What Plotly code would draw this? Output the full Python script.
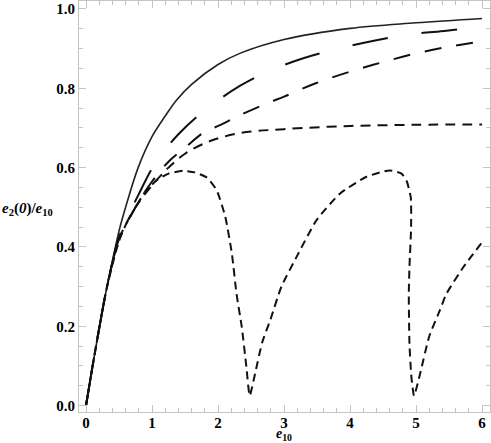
import plotly.graph_objects as go

# values
x_solid = [0, 0.1, 0.2, 0.3, 0.4, 0.5, 0.6, 0.79, 1.0, 1.2, 1.37, 1.6, 2.0, 2.33, 3.0, 4.0, 5.0, 6.0]
y_solid = [0, 0.1, 0.195, 0.285, 0.365, 0.44, 0.5, 0.6, 0.678, 0.73, 0.77, 0.81, 0.86, 0.888, 0.923, 0.951, 0.965, 0.976]

x_long = [0, 0.1, 0.2, 0.3, 0.4, 0.5, 0.6, 0.79, 1.045, 1.4, 1.82, 2.33, 2.78, 3.28, 3.83, 4.36, 4.92, 5.46, 6.0]
y_long = [0, 0.1, 0.195, 0.285, 0.36, 0.425, 0.465, 0.53, 0.61, 0.684, 0.747, 0.806, 0.844, 0.875, 0.9, 0.92, 0.936, 0.945, 0.955]

x_med = [0, 0.1, 0.2, 0.3, 0.4, 0.5, 0.75, 1.0, 1.25, 1.5, 1.77, 2.03, 2.33, 2.74, 3.0, 3.47, 4.0, 4.5, 5.0, 5.5, 6.0]
y_med = [0, 0.1, 0.195, 0.285, 0.36, 0.42, 0.5, 0.565, 0.615, 0.65, 0.687, 0.707, 0.732, 0.762, 0.779, 0.812, 0.842, 0.866, 0.888, 0.905, 0.918]

x_short = [0, 0.1, 0.2, 0.3, 0.4, 0.5, 0.75, 1.0, 1.25, 1.5, 1.85, 2.33, 3.0, 4.0, 5.0, 6.0]
y_short = [0, 0.1, 0.195, 0.285, 0.36, 0.42, 0.5, 0.555, 0.6, 0.635, 0.665, 0.687, 0.697, 0.705, 0.708, 0.709]

x_osc = [0, 0.1, 0.2, 0.3, 0.4, 0.5, 0.6, 0.75, 0.9, 1.07, 1.25, 1.47, 1.65, 1.83, 1.98, 2.11,
         2.21, 2.28, 2.36, 2.43, 2.48, 2.56, 2.67, 2.79, 2.96, 3.19, 3.49, 3.85, 4.25, 4.6,
         4.78, 4.86, 4.92, 4.925, 4.9, 4.89, 4.9, 4.93, 4.97, 5.06, 5.2, 5.36, 5.46, 5.72, 6.0]
y_osc = [0, 0.1, 0.195, 0.285, 0.355, 0.415, 0.455, 0.5, 0.54, 0.568, 0.585, 0.592, 0.588, 0.575, 0.543, 0.476,
         0.383, 0.282, 0.198, 0.097, 0.025, 0.08, 0.16, 0.215, 0.3, 0.375, 0.467, 0.535, 0.577, 0.593,
         0.585, 0.565, 0.525, 0.45, 0.35, 0.282, 0.156, 0.071, 0.025, 0.08, 0.175, 0.24, 0.282, 0.35, 0.412]

fig = go.Figure()
fig.add_trace(go.Scatter(x=x_solid, y=y_solid, mode='lines', line=dict(color='#222', width=1.6, shape='spline')))
fig.add_trace(go.Scatter(x=x_long, y=y_long, mode='lines', line=dict(color='#111', width=2, dash='36px,34px', shape='spline')))
fig.add_trace(go.Scatter(x=x_med, y=y_med, mode='lines', line=dict(color='#111', width=2, dash='17px,15px', shape='spline')))
fig.add_trace(go.Scatter(x=x_short, y=y_short, mode='lines', line=dict(color='#111', width=2, dash='10px,7px', shape='spline')))
fig.add_trace(go.Scatter(x=x_osc, y=y_osc, mode='lines',
                         line=dict(color='#111', width=2, dash='8px,5px', shape='spline', smoothing=0.5)))

tickfont = dict(family='Liberation Serif', size=15, color='black', weight='bold')
frame = dict(showline=True, linecolor='#c4c4c4', linewidth=1, mirror='allticks', ticks='inside',
             tickcolor='#c4c4c4', showgrid=False, zeroline=False, tickfont=tickfont)

fig.update_xaxes(range=[-0.106, 6.12], tickvals=[0, 1, 2, 3, 4, 5, 6], ticklen=7, ticklabelstandoff=-3,
                 minor=dict(ticks='inside', dtick=0.2, ticklen=4, tickcolor='#c4c4c4'), **frame)
fig.update_yaxes(range=[-0.016, 1.02], tickvals=[0, 0.2, 0.4, 0.6, 0.8, 1.0], tickformat='.1f', ticklen=7,
                 minor=dict(ticks='inside', dtick=0.05, ticklen=4, tickcolor='#c4c4c4'), **frame)

fig.add_annotation(xref='paper', yref='paper', x=-0.192, y=0.493, xanchor='left', yanchor='middle', showarrow=False,
                   text='<i>e</i><sub>2</sub>(<i>0</i>)/<i>e</i><sub>10</sub>',
                   font=dict(family='Liberation Serif', size=15, color='black', weight='bold'))
fig.add_annotation(xref='x', yref='paper', x=3, y=-0.0767, xanchor='center', yanchor='bottom', showarrow=False,
                   borderpad=0, text='<i>e</i><sub>10</sub>',
                   font=dict(family='Liberation Serif', size=14, color='black', weight='bold'))

fig.update_layout(width=491, height=443, margin=dict(l=79, r=1, t=1, b=31),
                  plot_bgcolor='white', paper_bgcolor='white', showlegend=False)

fig.write_html("out.html", config={'displayModeBar': False},
               post_script="document.body.style.margin='0';")
